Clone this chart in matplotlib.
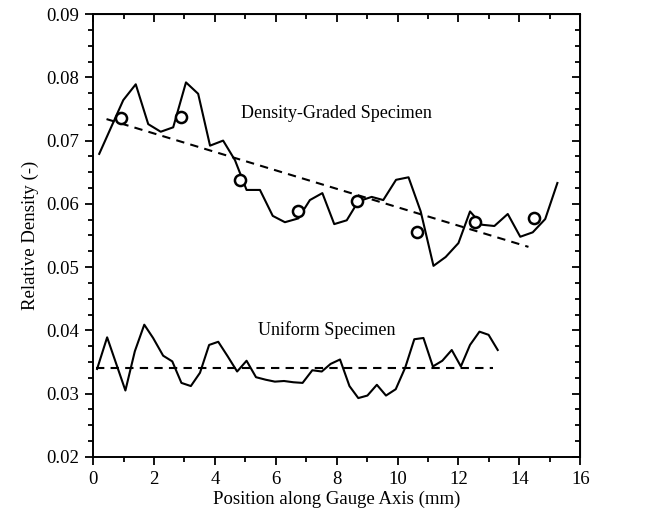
import matplotlib
matplotlib.use("Agg")
import matplotlib.pyplot as plt
from matplotlib.ticker import MultipleLocator

plt.rcParams['font.family'] = ['Liberation Serif', 'DejaVu Serif']

graded_x = [0.20, 0.99, 1.40, 1.81, 2.22, 2.63, 3.05, 3.45, 3.84, 4.27, 4.66, 5.04, 5.48,
            5.90, 6.30, 6.74, 7.12, 7.53, 7.92, 8.33, 8.71, 9.15, 9.53, 9.95, 10.36, 10.76,
            11.18, 11.58, 12.00, 12.38, 12.77, 13.18, 13.62, 14.03, 14.44, 14.85, 15.25]
graded_y = [0.0679, 0.0764, 0.0789, 0.0726, 0.0714, 0.0721, 0.0792, 0.0774, 0.0692, 0.0700,
            0.0669, 0.0622, 0.0622, 0.0581, 0.0571, 0.0577, 0.0606, 0.0617, 0.0568, 0.0574,
            0.0604, 0.0611, 0.0606, 0.0638, 0.0642, 0.0588, 0.0502, 0.0516, 0.0538, 0.0588,
            0.0567, 0.0565, 0.0584, 0.0548, 0.0555, 0.0576, 0.0633]

circle_x = [0.93, 2.87, 4.82, 6.74, 8.68, 10.63, 12.55, 14.49]
circle_y = [0.0736, 0.0738, 0.0638, 0.0589, 0.0605, 0.0556, 0.0571, 0.0578]

graded_fit_x = [0.44, 14.30]
graded_fit_y = [0.0734, 0.0532]

uniform_x = [0.13, 0.46, 1.06, 1.37, 1.68, 1.97, 2.30, 2.60, 2.90, 3.21, 3.51, 3.81, 4.11,
             4.42, 4.73, 5.04, 5.35, 5.67, 5.97, 6.27, 6.58, 6.88, 7.20, 7.51, 7.80, 8.11,
             8.42, 8.71, 9.01, 9.32, 9.62, 9.94, 10.25, 10.55, 10.85, 11.16, 11.47, 11.78,
             12.08, 12.38, 12.69, 12.99, 13.29]
uniform_y = [0.0339, 0.0389, 0.0305, 0.0367, 0.0409, 0.0388, 0.0360, 0.0351, 0.0317, 0.0312,
             0.0333, 0.0377, 0.0382, 0.0359, 0.0335, 0.0352, 0.0326, 0.0322, 0.0319, 0.0320,
             0.0318, 0.0317, 0.0337, 0.0335, 0.0347, 0.0354, 0.0312, 0.0293, 0.0297, 0.0314,
             0.0297, 0.0307, 0.0341, 0.0386, 0.0388, 0.0343, 0.0352, 0.0369, 0.0343, 0.0377,
             0.0398, 0.0393, 0.0369]

uniform_fit_x = [0.11, 13.15]
uniform_fit_y = [0.0341, 0.0341]

x_ticks = [0, 2, 4, 6, 8, 10, 12, 14, 16]
x_ticklabels = ['0', '2', '4', '6', '8', '10', '12', '14', '16']
y_ticks = [0.02, 0.03, 0.04, 0.05, 0.06, 0.07, 0.08, 0.09]
y_ticklabels = ['0.02', '0.03', '0.04', '0.05', '0.06', '0.07', '0.08', '0.09']

fig = plt.figure(figsize=(6.7, 5.21), dpi=100)
ax = fig.add_axes([0.139, 0.123, 0.727, 0.850])

LW = 1.5
ax.plot(graded_x, graded_y, color='black', lw=LW)
ax.plot(graded_fit_x, graded_fit_y, color='black', lw=LW, ls=(0, (4, 3)))
ax.plot(circle_x, circle_y, ls='none', marker='o', ms=8, mfc='white', mec='black', mew=1.8)
ax.plot(uniform_x, uniform_y, color='black', lw=LW)
ax.plot(uniform_fit_x, uniform_fit_y, color='black', lw=LW, ls=(0, (4, 3)))

ax.text(8.0, 0.0743, 'Density-Graded Specimen', ha='center', va='center', fontsize=13)
ax.text(7.67, 0.0400, 'Uniform Specimen', ha='center', va='center', fontsize=13)

ax.set_xlim(0, 16)
ax.set_ylim(0.02, 0.09)
ax.set_xticks(x_ticks)
ax.set_xticklabels(x_ticklabels)
ax.set_yticks(y_ticks)
ax.set_yticklabels(y_ticklabels)
ax.xaxis.set_minor_locator(MultipleLocator(1))
ax.yaxis.set_minor_locator(MultipleLocator(0.0025))

ax.tick_params(which='both', direction='out', top=False, right=False, labelsize=13.5, width=1.3)
ax.tick_params(which='major', length=6, pad=4)
ax.tick_params(which='minor', length=3.5)
for sp in ax.spines.values():
    sp.set_linewidth(1.4)

axt = ax.secondary_xaxis('top')
axt.set_xticks(x_ticks)
axt.xaxis.set_minor_locator(MultipleLocator(1))
axt.tick_params(which='both', direction='in', labeltop=False, width=1.3)
axt.tick_params(which='major', length=6)
axt.tick_params(which='minor', length=3.5)
axr = ax.secondary_yaxis('right')
axr.set_yticks(y_ticks)
axr.yaxis.set_minor_locator(MultipleLocator(0.0025))
axr.tick_params(which='both', direction='in', labelright=False, width=1.3)
axr.tick_params(which='major', length=6)
axr.tick_params(which='minor', length=3.5)

ax.set_xlabel('Position along Gauge Axis (mm)', fontsize=13.5, labelpad=2)
ax.set_ylabel('Relative Density (-)', fontsize=13.5, labelpad=5)

fig.savefig('out.png', dpi=100)
